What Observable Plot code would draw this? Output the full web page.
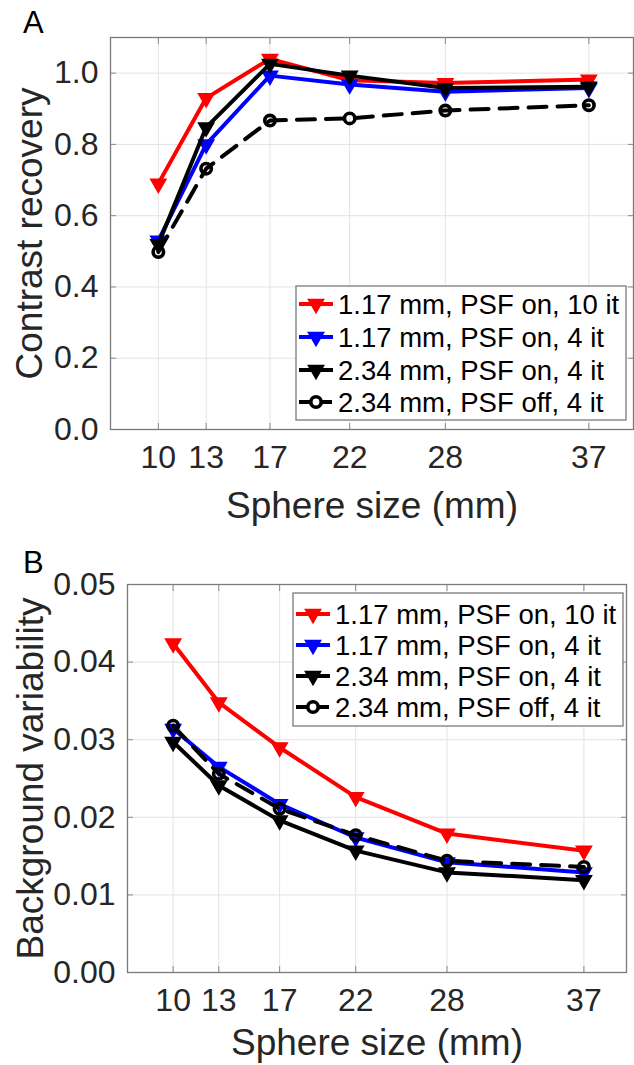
<!DOCTYPE html>
<html><head><meta charset="utf-8">
<script src="https://cdn.jsdelivr.net/npm/d3@7"></script>
<script src="https://cdn.jsdelivr.net/npm/@observablehq/plot@0.6"></script>
<style>
body{margin:0;background:#fff;}
#root{position:relative;width:634px;height:1065px;overflow:hidden;font-family:"Liberation Sans",Arial,sans-serif;color:#262626;background:#fff;}
#root svg{position:absolute;left:0;}
</style></head><body><div id="root"></div>
<script>
// ---- data ----
const sizes = [10, 13, 17, 22, 28, 37];
const seriesNames = ["1.17 mm, PSF on, 10 it", "1.17 mm, PSF on, 4 it", "2.34 mm, PSF on, 4 it", "2.34 mm, PSF off, 4 it"];
const seriesColors = ["#ff0000", "#0000ff", "#000000", "#000000"];
const seriesSymbols = ["triangle", "triangle", "triangle", "circle"];
const seriesDash = [null, null, null, "18,11"];
const contrastRed   = [0.69, 0.93, 1.04, 0.98, 0.972, 0.982];
const contrastBlue  = [0.53, 0.80, 0.993, 0.968, 0.948, 0.958];
const contrastBlack = [0.52, 0.848, 1.026, 0.993, 0.958, 0.962];
const contrastOff   = [0.498, 0.732, 0.867, 0.873, 0.895, 0.91];
const bgRed   = [0.0424, 0.0348, 0.0290, 0.0226, 0.0179, 0.0157];
const bgBlue  = [0.0314, 0.0265, 0.0217, 0.0174, 0.0142, 0.0129];
const bgBlack = [0.0297, 0.0241, 0.0196, 0.0157, 0.0129, 0.0119];
const bgOff   = [0.0318, 0.0256, 0.0211, 0.0177, 0.0144, 0.0136];
const contrastTicks = [0, 0.2, 0.4, 0.6, 0.8, 1.0];
const bgTicks = [0, 0.01, 0.02, 0.03, 0.04, 0.05];
const xLabel = "Sphere size (mm)";
const panelLetters = ["A", "B"];

// ---- drawing ----
const FONT = '"Liberation Sans", Arial, sans-serif';
const root = document.getElementById("root");

function makePanel(cfg) {
  const rows = cfg.series.flatMap((vals, i) => vals.map((v, j) => ({x: sizes[j], y: v, s: i})));
  const marks = [
    Plot.gridX(sizes, {stroke: "#e3e3e3", strokeOpacity: 1, strokeWidth: 1}),
    Plot.gridY(cfg.yTicks, {stroke: "#e3e3e3", strokeOpacity: 1, strokeWidth: 1}),
    Plot.axisX(sizes, {anchor: "bottom", tickSize: 0, tickPadding: 16, fontSize: 32, label: null, tickFormat: d => String(d), fill: "#262626"}),
    Plot.axisX(sizes, {anchor: "bottom", tickSize: 6, dy: -6, label: null, tickFormat: () => "", stroke: "#8a8a8a"}),
    Plot.axisX(sizes, {anchor: "top", tickSize: 6, dy: 6, label: null, tickFormat: () => "", stroke: "#8a8a8a"}),
    Plot.axisY(cfg.yTicks, {anchor: "left", tickSize: 0, tickPadding: 12, fontSize: 32, label: null, tickFormat: cfg.yFmt, fill: "#262626"}),
    Plot.axisY(cfg.yTicks, {anchor: "left", tickSize: 6, dx: 6, label: null, tickFormat: () => "", stroke: "#8a8a8a"}),
    Plot.axisY(cfg.yTicks, {anchor: "right", tickSize: 6, dx: -6, label: null, tickFormat: () => "", stroke: "#8a8a8a"}),
    Plot.frame({stroke: "#7a7a7a", strokeWidth: 1.3})
  ];
  cfg.series.forEach((_, i) => {
    const d = rows.filter(r => r.s === i);
    marks.push(Plot.line(d, {x: "x", y: "y", stroke: seriesColors[i], strokeWidth: 4, strokeDasharray: seriesDash[i] || undefined}));
    if (seriesSymbols[i] === "triangle") {
      marks.push(Plot.dot(d, {x: "x", y: "y", symbol: "triangle", rotate: 180, r: 5.6, fill: seriesColors[i], stroke: seriesColors[i], strokeWidth: 1.6}));
    } else {
      marks.push(Plot.dot(d, {x: "x", y: "y", symbol: "circle", r: 5.2, fill: "none", stroke: seriesColors[i], strokeWidth: 3.6}));
    }
  });
  marks.push(Plot.text([xLabel], {frameAnchor: "bottom", textAnchor: "middle", lineAnchor: "middle", dy: cfg.xLabelDy, fontSize: 37, fill: "#262626"}));
  marks.push(Plot.text([cfg.yLabel], {frameAnchor: "left", textAnchor: "middle", lineAnchor: "middle", rotate: -90, dx: cfg.yLabelDx, fontSize: 37, fill: "#262626"}));
  const svg = Plot.plot({
    width: 634, height: cfg.height,
    marginTop: cfg.mt, marginBottom: cfg.mb, marginLeft: cfg.ml, marginRight: cfg.mr,
    x: {domain: [7, 39.8]},
    y: {domain: cfg.yDomain},
    style: {fontFamily: FONT, color: "#262626", background: "transparent", overflow: "visible"},
    marks
  });
  svg.style.top = cfg.top + "px";
  root.appendChild(svg);
}

makePanel({
  top: 0, height: 540, mt: 37, mb: 111, ml: 110, mr: 1,
  yDomain: [0, 1.1], yTicks: contrastTicks, yFmt: d3.format(".1f"),
  series: [contrastRed, contrastBlue, contrastBlack, contrastOff],
  yLabel: "Contrast recovery", yLabelDx: -80, xLabelDy: 77
});
makePanel({
  top: 540, height: 525, mt: 44, mb: 93, ml: 127, mr: 8,
  yDomain: [0, 0.05], yTicks: bgTicks, yFmt: d3.format(".2f"),
  series: [bgRed, bgBlue, bgBlack, bgOff],
  yLabel: "Background variability", yLabelDx: -96, xLabelDy: 71
});

// ---- overlay: legends and panel letters ----
const ov = d3.select(root).append("svg")
  .attr("width", 634).attr("height", 1065).style("top", "0px")
  .style("font-family", FONT);

function legend(box) {
  const g = ov.append("g");
  g.append("rect").attr("x", box.x).attr("y", box.y).attr("width", box.w).attr("height", box.h)
    .attr("fill", "#fff").attr("stroke", "#7a7a7a").attr("stroke-width", 1.3);
  seriesNames.forEach((name, i) => {
    const cy = box.rowY[i];
    g.append("line").attr("x1", box.lx1).attr("x2", box.lx2).attr("y1", cy).attr("y2", cy)
      .attr("stroke", seriesColors[i]).attr("stroke-width", 4)
      .attr("stroke-dasharray", seriesDash[i] ? "12,9" : null);
    const mx = (box.lx1 + box.lx2) / 2;
    if (seriesSymbols[i] === "triangle") {
      g.append("path").attr("d", d3.symbol(d3.symbolTriangle, Math.PI * 5.6 * 5.6)())
        .attr("transform", `translate(${mx},${cy}) rotate(180)`)
        .attr("fill", seriesColors[i]).attr("stroke", seriesColors[i]).attr("stroke-width", 1.6);
    } else {
      g.append("circle").attr("cx", mx).attr("cy", cy).attr("r", 5.2)
        .attr("fill", "none").attr("stroke", seriesColors[i]).attr("stroke-width", 3.6);
    }
    g.append("text").attr("x", box.tx).attr("y", cy).attr("dy", "0.35em")
      .attr("font-size", 27.5).attr("fill", "#000").text(name);
  });
}
legend({x: 296, y: 286, w: 330, h: 134, rowY: [304, 337, 370, 402], lx1: 299, lx2: 333, tx: 338});
legend({x: 293, y: 593, w: 330, h: 133, rowY: [614, 645, 676, 707], lx1: 296, lx2: 330, tx: 335});

ov.append("text").attr("x", 23).attr("y", 33).attr("font-size", 31).attr("fill", "#000").text(panelLetters[0]);
ov.append("text").attr("x", 23).attr("y", 573).attr("font-size", 31).attr("fill", "#000").text(panelLetters[1]);
</script></body></html>
